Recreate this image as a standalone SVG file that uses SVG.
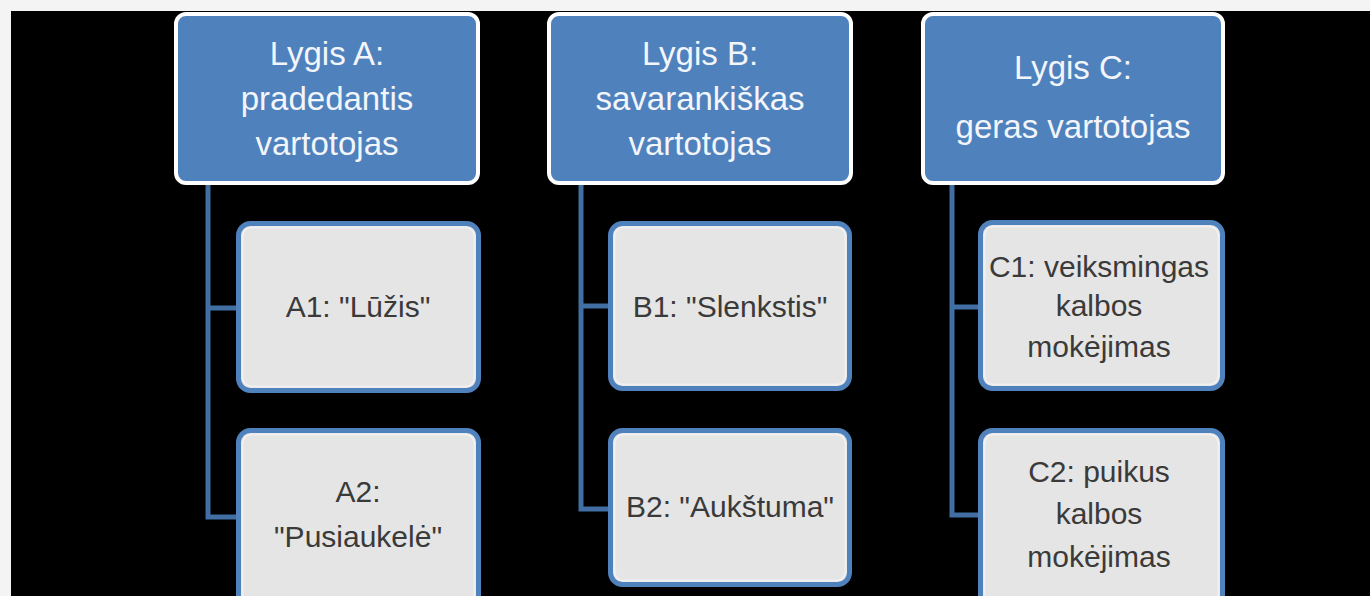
<svg xmlns="http://www.w3.org/2000/svg" width="1370" height="596" viewBox="0 0 1370 596">
<style>
.hdr{fill:#4f81bd;stroke:#ffffff;stroke-width:4}
.box{fill:#e5e5e5;stroke:#4f81bd;stroke-width:5}
.inner{fill:none;stroke:#f0f0f0;stroke-width:2}
.ht{font-family:"Liberation Sans",Arial,sans-serif;font-size:33px;fill:#f2f5fa;text-anchor:middle}
.bt{font-family:"Liberation Sans",Arial,sans-serif;font-size:30px;fill:#3a3a3a;text-anchor:middle}
.con{fill:none;stroke:#416fa3;stroke-width:5}
</style>
<rect x="0" y="0" width="1370" height="596" fill="#f4f4f4"/>
<rect x="11" y="11" width="1359" height="585" fill="#000000"/>
<g id="connectors">
<path class="con" d="M208,183 V517 H238 M208,308 H238"/>
<path class="con" d="M581,183 V509 H610 M581,306 H610"/>
<path class="con" d="M952,183 V515 H980 M952,307 H980"/>
</g>
<g id="headerA">
<rect class="hdr" x="176" y="14" width="302" height="169" rx="10"/>
<text class="ht" x="327" y="65">Lygis A:</text>
<text class="ht" x="327" y="110">pradedantis</text>
<text class="ht" x="327" y="155">vartotojas</text>
</g>
<g id="headerB">
<rect class="hdr" x="549" y="14" width="302" height="169" rx="10"/>
<text class="ht" x="700" y="65">Lygis B:</text>
<text class="ht" x="700" y="110">savarankiškas</text>
<text class="ht" x="700" y="155">vartotojas</text>
</g>
<g id="headerC">
<rect class="hdr" x="923" y="14" width="300" height="169" rx="10"/>
<text class="ht" x="1073" y="79">Lygis C:</text>
<text class="ht" x="1073" y="138">geras vartotojas</text>
</g>
<g id="A1">
<rect class="box" x="238.5" y="223.5" width="240" height="167" rx="12"/>
<rect class="inner" x="242.5" y="227.5" width="232" height="159" rx="9"/>
<text class="bt" x="358" y="317">A1: "Lūžis"</text>
</g>
<g id="A2">
<rect class="box" x="238.5" y="430.5" width="240" height="180" rx="12"/>
<rect class="inner" x="242.5" y="434.5" width="232" height="172" rx="9"/>
<text class="bt" x="358" y="502">A2:</text>
<text class="bt" x="358" y="547">"Pusiaukelė"</text>
</g>
<g id="B1">
<rect class="box" x="610.5" y="223.5" width="239" height="165" rx="12"/>
<rect class="inner" x="614.5" y="227.5" width="231" height="157" rx="9"/>
<text class="bt" x="730" y="317">B1: "Slenkstis"</text>
</g>
<g id="B2">
<rect class="box" x="610.5" y="430.5" width="239" height="154" rx="12"/>
<rect class="inner" x="614.5" y="434.5" width="231" height="146" rx="9"/>
<text class="bt" x="730" y="517">B2: "Aukštuma"</text>
</g>
<g id="C1">
<rect class="box" x="980.5" y="222.5" width="242" height="166" rx="12"/>
<rect class="inner" x="984.5" y="226.5" width="234" height="158" rx="9"/>
<text class="bt" x="1099" y="277">C1: veiksmingas</text>
<text class="bt" x="1099" y="316">kalbos</text>
<text class="bt" x="1099" y="357">mokėjimas</text>
</g>
<g id="C2">
<rect class="box" x="980.5" y="430.5" width="242" height="180" rx="12"/>
<rect class="inner" x="984.5" y="434.5" width="234" height="172" rx="9"/>
<text class="bt" x="1099" y="482">C2: puikus</text>
<text class="bt" x="1099" y="524">kalbos</text>
<text class="bt" x="1099" y="567">mokėjimas</text>
</g>
</svg>
